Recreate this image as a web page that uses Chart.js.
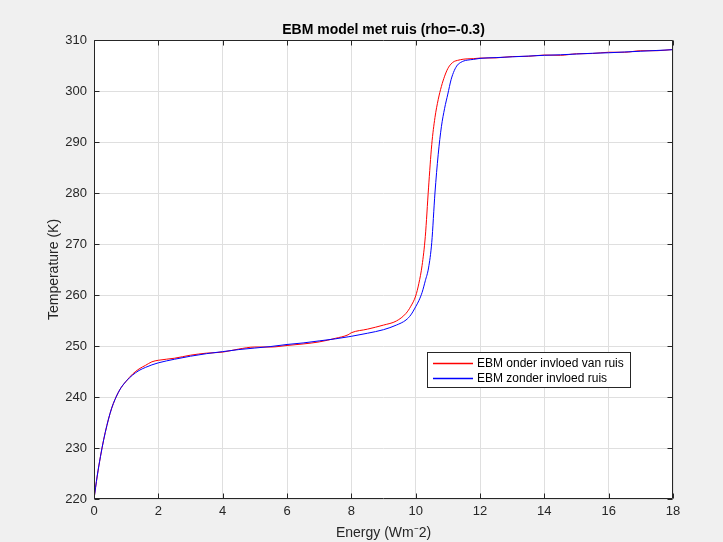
<!DOCTYPE html>
<html>
<head>
<meta charset="utf-8">
<script src="https://cdn.jsdelivr.net/npm/chart.js@4.4.1/dist/chart.umd.min.js"></script>
<style>
  html, body { margin: 0; padding: 0; background: #f0f0f0; }
  #wrap { width: 723px; height: 542px; }
</style>
</head>
<body>
<div id="wrap"><canvas id="c" width="723" height="542"></canvas></div>
<script>
const titleText = 'EBM model met ruis (rho=-0.3)';
const xTitle = 'Energy (Wm\u207B2)';
const yTitle = 'Temperature (K)';
const seriesNames = ['EBM onder invloed van ruis', 'EBM zonder invloed ruis'];

const energy = [0, 0.1, 0.2, 0.3, 0.4, 0.5, 0.6, 0.8,
  1.0, 1.2, 1.4, 1.6, 1.8, 2.0,
  2.5, 3.0, 3.5, 4.0, 4.5, 5.0, 5.5, 6.0, 6.5, 7.0, 7.5,
  7.9, 8.0, 8.5, 9.0, 9.4, 9.7, 9.85,
  10.0, 10.1, 10.2, 10.3, 10.4, 10.5, 10.6, 10.7, 10.8, 10.9, 11.0, 11.1, 11.2, 11.3, 11.4, 11.5, 11.6,
  11.8, 12.0,
  12.5, 13.0, 13.5, 14.0, 14.5, 15.0, 15.5, 16.0, 16.5, 17.0, 17.5, 18.0];

const tempNoise = [220, 224.5, 228.3, 231.6, 234.4, 236.8, 238.7, 241.4,
  243.1, 244.5, 245.5, 246.2, 246.9, 247.2,
  247.6, 248.2, 248.6, 248.8, 249.4, 249.8, 249.8, 250.1, 250.4, 250.8, 251.5,
  252.2, 252.6, 253.3, 254.1, 254.9, 256.4, 257.8,
  259.8, 262.3, 265.8, 271.5, 281.0, 289.5, 294.8, 298.3, 300.9, 302.9, 304.4, 305.3, 305.8, 306.0, 306.15, 306.25, 306.3,
  306.35, 306.45,
  306.5, 306.75, 306.8, 307.05, 307.0, 307.3, 307.35, 307.6, 307.6, 307.9, 307.9, 308.15];

const tempClean = [220, 224.5, 228.3, 231.6, 234.4, 236.8, 238.7, 241.4,
  243.1, 244.3, 245.2, 245.8, 246.3, 246.7,
  247.4, 248.0, 248.5, 248.9, 249.3, 249.6, 249.9, 250.3, 250.6, 251.0, 251.4,
  251.8, 251.9, 252.5, 253.2, 254.1, 255.1, 256.1,
  257.7, 258.9, 260.5, 262.8, 265.3, 270.3, 280.0, 287.5, 293.0, 296.6, 299.4, 302.2, 304.0, 305.1, 305.6, 305.9, 306.05,
  306.2, 306.4,
  306.55, 306.7, 306.85, 307.0, 307.1, 307.25, 307.4, 307.5, 307.65, 307.8, 307.95, 308.1];

const xTicks = [0, 2, 4, 6, 8, 10, 12, 14, 16, 18];
const yTicks = [220, 230, 240, 250, 260, 270, 280, 290, 300, 310];

const seriesColors = ['#ff0000', '#0000ff'];
const FONT = '"Liberation Sans", Arial, Helvetica, sans-serif';
const AXIS_COLOR = '#262626';

function toPoints(xs, ys) { return xs.map((x, i) => ({ x: x, y: ys[i] })); }

const framePlugin = {
  id: 'frame',
  beforeDraw(chart) {
    const ctx = chart.ctx, a = chart.chartArea;
    ctx.save();
    ctx.fillStyle = '#f0f0f0';
    ctx.fillRect(0, 0, chart.width, chart.height);
    ctx.fillStyle = '#ffffff';
    ctx.fillRect(a.left, a.top, a.right - a.left, a.bottom - a.top);
    ctx.restore();
  },
  afterDatasetsDraw(chart) {
    const ctx = chart.ctx, a = chart.chartArea;
    const xs = chart.scales.x, ys = chart.scales.y;
    ctx.save();
    ctx.strokeStyle = AXIS_COLOR;
    ctx.lineWidth = 1;
    const L = Math.round(a.left) + 0.5, R = Math.round(a.right) - 0.5;
    const T = Math.round(a.top) + 0.5, B = Math.round(a.bottom) - 0.5;
    ctx.beginPath();
    ctx.rect(L, T, R - L, B - T);
    ctx.stroke();
    const tl = 5;
    ctx.beginPath();
    xTicks.forEach(v => {
      const px = Math.round(xs.getPixelForValue(v)) + 0.5;
      ctx.moveTo(px, B); ctx.lineTo(px, B - tl);
      ctx.moveTo(px, T); ctx.lineTo(px, T + tl);
    });
    yTicks.forEach(v => {
      const py = Math.round(ys.getPixelForValue(v)) + 0.5;
      ctx.moveTo(L, py); ctx.lineTo(L + tl, py);
      ctx.moveTo(R, py); ctx.lineTo(R - tl, py);
    });
    ctx.stroke();

    // title
    ctx.fillStyle = '#000000';
    ctx.font = 'bold 14px ' + FONT;
    ctx.textAlign = 'center';
    ctx.textBaseline = 'middle';
    ctx.fillText(titleText, (a.left + a.right) / 2, 30);

    // legend box
    const bx = Math.round(a.left) + 333, by = Math.round(a.top) + 312, bw = 203, bh = 35;
    ctx.fillStyle = '#ffffff';
    ctx.fillRect(bx, by, bw, bh);
    ctx.strokeStyle = '#262626';
    ctx.lineWidth = 1;
    ctx.strokeRect(bx + 0.5, by + 0.5, bw, bh);
    ctx.font = '12px ' + FONT;
    ctx.textBaseline = 'middle';
    ctx.textAlign = 'left';
    const rows = [by + 11, by + 26];
    for (let i = 0; i < seriesNames.length; i++) {
      ctx.beginPath();
      ctx.strokeStyle = seriesColors[i];
      ctx.lineWidth = 1.5;
      ctx.moveTo(bx + 6, rows[i] + 0.5);
      ctx.lineTo(bx + 46, rows[i] + 0.5);
      ctx.stroke();
      ctx.fillStyle = '#000000';
      ctx.fillText(seriesNames[i], bx + 50, rows[i] + 1);
    }
    ctx.restore();
  }
};

new Chart(document.getElementById('c'), {
  type: 'line',
  data: {
    datasets: [
      {
        label: seriesNames[0],
        data: toPoints(energy, tempNoise),
        borderColor: seriesColors[0],
        borderWidth: 1,
        pointRadius: 0,
        fill: false,
        cubicInterpolationMode: 'monotone',
        order: 2
      },
      {
        label: seriesNames[1],
        data: toPoints(energy, tempClean),
        borderColor: seriesColors[1],
        borderWidth: 1,
        pointRadius: 0,
        fill: false,
        cubicInterpolationMode: 'monotone',
        order: 1
      }
    ]
  },
  options: {
    responsive: false,
    animation: false,
    devicePixelRatio: 1,
    layout: { padding: { left: 0, right: 50, top: 40, bottom: 0 } },
    plugins: {
      legend: { display: false },
      tooltip: { enabled: false },
      title: { display: false }
    },
    scales: {
      x: {
        type: 'linear',
        min: 0, max: 18,
        afterBuildTicks(scale) { scale.ticks = xTicks.map(v => ({ value: v })); },
        afterFit(scale) { scale.height = 43; },
        grid: { color: '#dfdfdf', drawTicks: false, lineWidth: 1 },
        border: { display: false },
        ticks: { color: AXIS_COLOR, font: { family: FONT, size: 13 }, padding: 5, maxRotation: 0 },
        title: { display: true, text: xTitle, color: AXIS_COLOR, font: { family: FONT, size: 14 }, padding: { top: 0, bottom: 0 } }
      },
      y: {
        type: 'linear',
        min: 220, max: 310,
        afterBuildTicks(scale) { scale.ticks = yTicks.map(v => ({ value: v })); },
        afterFit(scale) { scale.width = 94; },
        grid: { color: '#dfdfdf', drawTicks: false, lineWidth: 1 },
        border: { display: false },
        ticks: { color: AXIS_COLOR, font: { family: FONT, size: 13 }, padding: 7 },
        title: { display: true, text: yTitle, color: AXIS_COLOR, font: { family: FONT, size: 14 }, padding: { top: 46, bottom: 0 } }
      }
    }
  },
  plugins: [framePlugin]
});
</script>
</body>
</html>
